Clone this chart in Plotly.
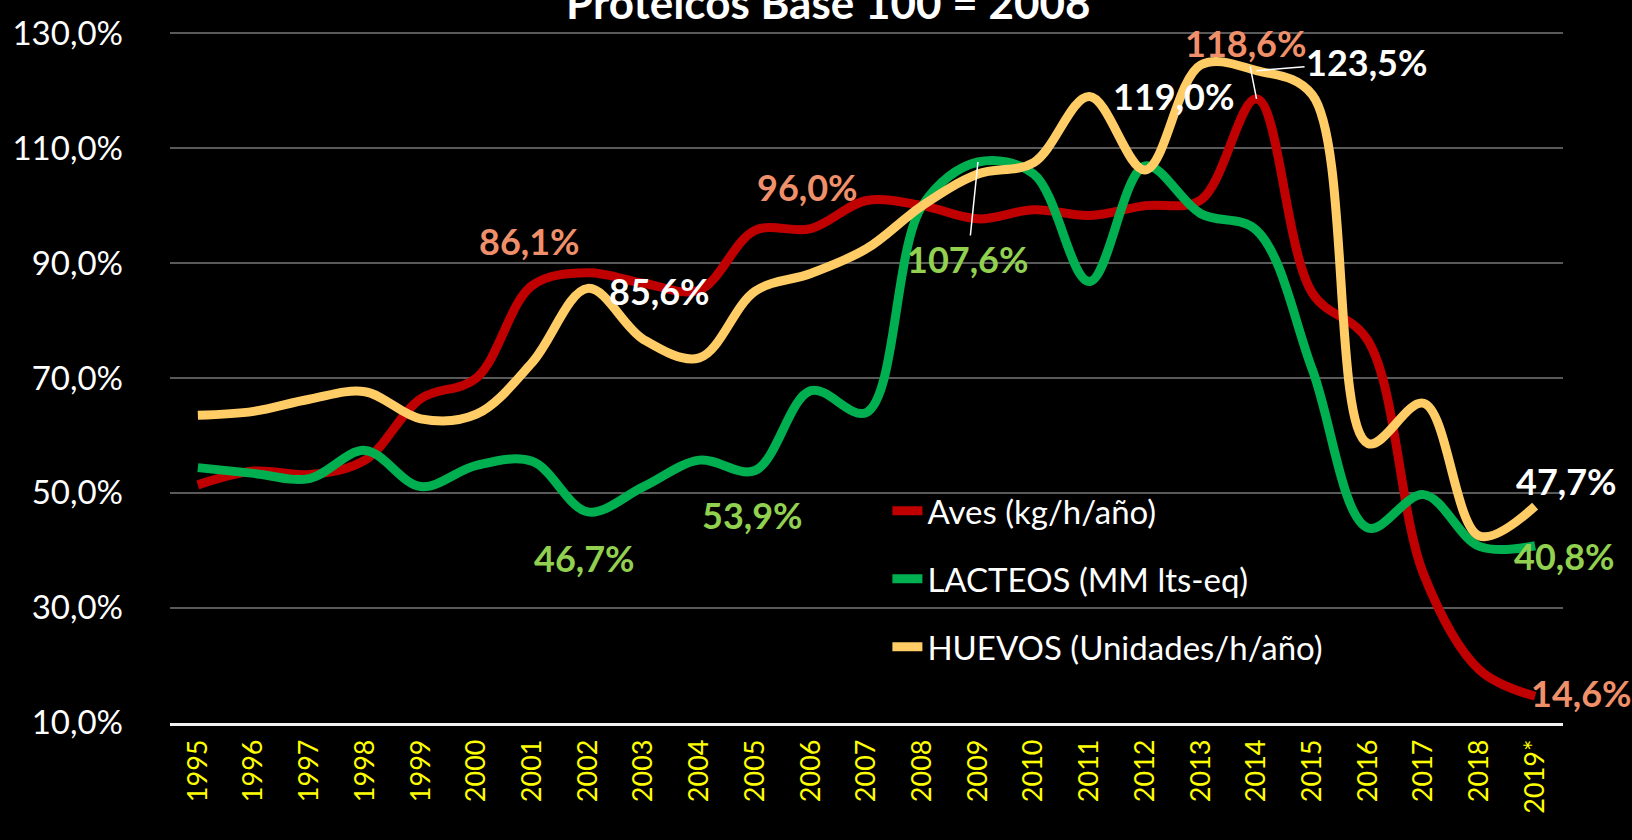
import plotly.graph_objects as go

years = ["1995", "1996", "1997", "1998", "1999", "2000", "2001", "2002", "2003", "2004",
         "2005", "2006", "2007", "2008", "2009", "2010", "2011", "2012", "2013", "2014",
         "2015", "2016", "2017", "2018", "2019*"]

aves = [51.4, 53.8, 53.2, 55.7, 66.4, 70.0, 86.1, 88.3, 86.5, 85.3,
        95.7, 96.0, 100.9, 100.0, 97.7, 99.3, 98.3, 100.0, 101.0, 118.6,
        84.8, 76.5, 35.8, 19.2, 14.6]

lacteos = [54.4, 53.4, 52.5, 57.4, 51.1, 54.8, 55.5, 46.7, 51.1, 55.7,
           53.9, 67.8, 64.0, 100.0, 107.6, 105.5, 86.8, 106.9, 98.6, 95.7,
           71.5, 43.9, 49.7, 40.7, 40.8]

huevos = [63.5, 64.2, 66.3, 67.6, 62.9, 63.7, 72.7, 85.6, 76.7, 73.5,
          85.1, 88.2, 92.5, 100.0, 105.5, 107.5, 119.0, 106.2, 124.5, 123.5,
          119.3, 58.6, 65.6, 42.5, 47.7]

series_names = ["Aves (kg/h/año)", "LACTEOS (MM lts-eq)", "HUEVOS (Unidades/h/año)"]
title_text = "Proteicos Base 100 = 2008"

FONT = "Lato"
line_colors = ["#C00000", "#00B050", "#FFCC66"]
label_colors = ["#F0906A", "#92D050", "#FFFFFF"]

fig = go.Figure()
for i, (name, vals) in enumerate(zip(series_names, [aves, lacteos, huevos])):
    fig.add_trace(go.Scatter(
        x=years, y=vals, name=name, mode="lines",
        line=dict(color=line_colors[i], width=9, shape="spline", smoothing=1.0),
        legendgroup=f"g{i}",
    ))

# data-label placement: (series index, year index, xshift px, yshift px, arrow offsets or None)
label_specs = [
    (0, 6, -3, 45, None),
    (0, 11, -3, 42, None),
    (0, 19, None, None, (-11, -56)),
    (0, 24, 46, 3, None),
    (1, 7, -3, -46, None),
    (1, 10, -3, -44, None),
    (1, 14, None, None, (-10, 97)),
    (1, 24, 29, -10, None),
    (2, 7, 72, -3, None),
    (2, 16, 84, 0, None),
    (2, 19, None, None, (110, -9)),
    (2, 24, 31, 25, None),
]
all_series = [aves, lacteos, huevos]
for s, idx, xs, ys, arrow in label_specs:
    v = all_series[s][idx]
    txt = f"{v:.1f}%".replace(".", ",")
    font = dict(family=FONT, size=36, color=label_colors[s], weight="bold")
    if arrow is None:
        fig.add_annotation(x=idx, y=v, text=txt, showarrow=False,
                           xshift=xs, yshift=ys, font=font)
    else:
        fig.add_annotation(x=idx, y=v, text=txt, showarrow=True,
                           ax=arrow[0], ay=arrow[1], arrowhead=0, arrowwidth=1.5,
                           arrowcolor="#FFFFFF", standoff=0, font=font)

fig.add_annotation(xref="paper", yref="paper", x=0.4726, y=1.0416, text=title_text,
                   showarrow=False, xanchor="center", yanchor="middle",
                   font=dict(family=FONT, size=44, color="#FFFFFF", weight="bold"))

fig.update_layout(
    width=1632, height=840,
    paper_bgcolor="#000000", plot_bgcolor="#000000",
    margin=dict(l=158, r=69, t=26, b=117),
    separators=",.",
    showlegend=True,
    legend=dict(x=0.515, y=0.347, xanchor="left", yanchor="top",
                bgcolor="rgba(0,0,0,0)", font=dict(family=FONT, size=33, color="#FFFFFF"),
                tracegroupgap=22, traceorder="grouped"),
    xaxis=dict(type="category", range=[-0.5, 24.5], tickangle=-90,
               tickfont=dict(family=FONT, size=27, color="#FFFF00"),
               showgrid=False, showline=True, linecolor="#F2F2F2", linewidth=2.5,
               ticks="", ticklabelstandoff=3, zeroline=False),
    yaxis=dict(range=[9.95, 130.4], tick0=10, dtick=20, tickformat=".1f", ticksuffix="%",
               tickfont=dict(family=FONT, size=33, color="#FFFFFF"),
               gridcolor="#595959", gridwidth=1.5, zeroline=False, showline=False,
               ticks="", ticklabelstandoff=46, ticklabeloverflow="allow"),
)

fig.write_html("out.html", config={"displayModeBar": False},
               post_script="document.body.style.margin='0';document.body.style.background='#000';")
